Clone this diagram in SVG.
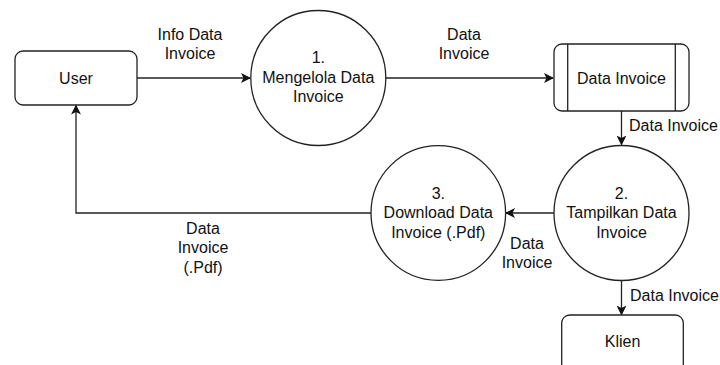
<svg xmlns="http://www.w3.org/2000/svg" width="720" height="365" viewBox="0 0 720 365">
<defs>
<marker id="arr" viewBox="0 0 10 10" refX="9" refY="5" markerWidth="10" markerHeight="10" markerUnits="userSpaceOnUse" orient="auto">
<path d="M0,0 L10,5 L0,10 L2.5,5 Z" fill="#111"/>
</marker>
</defs>
<style>
.s{fill:#fff;stroke:#222;stroke-width:1.3}
.e{fill:none;stroke:#222;stroke-width:1.3}
text{font-family:"Liberation Sans",Arial,sans-serif;font-size:16px;fill:#111;text-anchor:middle}
.l{text-anchor:start}
</style>
<rect width="720" height="365" fill="#fff"/>
<g id="connectors">
<path class="e" d="M137,78 H250" marker-end="url(#arr)"/>
<path class="e" d="M386,78 H553" marker-end="url(#arr)"/>
<path class="e" d="M621.5,111 V144.5" marker-end="url(#arr)"/>
<path class="e" d="M554,213 H506" marker-end="url(#arr)"/>
<path class="e" d="M621.5,280.5 V314.5" marker-end="url(#arr)"/>
<path class="e" d="M371,213 H76 V105.5" marker-end="url(#arr)"/>
<text x="190" y="39.5">Info Data</text>
<text x="190" y="59">Invoice</text>
<text x="464" y="39.5">Data</text>
<text x="464" y="59">Invoice</text>
<text class="l" x="629" y="130.5">Data Invoice</text>
<text x="527" y="248.5">Data</text>
<text x="527" y="268">Invoice</text>
<text class="l" x="630" y="300.5">Data Invoice</text>
<text x="203" y="233.5">Data</text>
<text x="203" y="253">Invoice</text>
<text x="203" y="272.5">(.Pdf)</text>
</g>
<g id="user">
<rect class="s" x="15" y="51" width="122" height="54" rx="8"/>
<text x="76" y="83.5">User</text>
</g>
<g id="p1">
<circle class="s" cx="318.3" cy="78" r="67.5"/>
<text x="318.3" y="63">1.</text>
<text x="318.3" y="82.5">Mengelola Data</text>
<text x="318.3" y="102">Invoice</text>
</g>
<g id="store">
<rect class="s" x="554" y="44" width="135" height="67" rx="8"/>
<path class="e" d="M567.7,44 V111 M675.3,44 V111"/>
<text x="621.5" y="83.5">Data Invoice</text>
</g>
<g id="p2">
<circle class="s" cx="621.5" cy="213" r="67.5"/>
<text x="621.5" y="198.5">2.</text>
<text x="621.5" y="218">Tampilkan Data</text>
<text x="621.5" y="237.5">Invoice</text>
</g>
<g id="p3">
<circle class="s" cx="438.3" cy="213" r="67.3"/>
<text x="438.3" y="198.5">3.</text>
<text x="438.3" y="218">Download Data</text>
<text x="438.3" y="237.5">Invoice (.Pdf)</text>
</g>
<g id="klien">
<rect class="s" x="561.7" y="315" width="121.6" height="60" rx="8"/>
<text x="622.5" y="346.7">Klien</text>
</g>
</svg>
